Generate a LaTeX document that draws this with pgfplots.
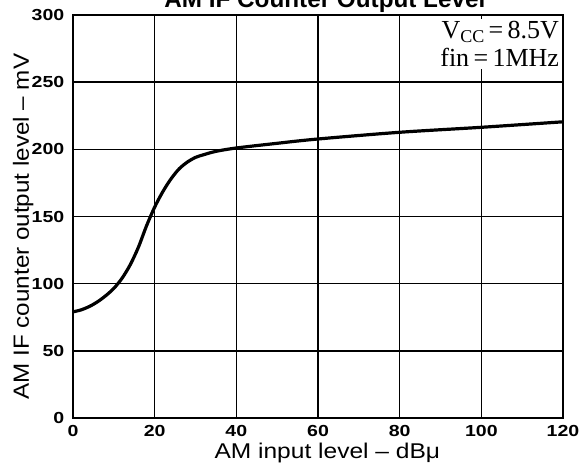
\documentclass[border=0pt]{standalone}
\usepackage{pgfplots}
\pgfplotsset{compat=1.18}
\usepackage{fontspec}
\setmainfont{Liberation Sans}
\newfontfamily\seriffont{Liberation Serif}
\begin{document}
\begin{tikzpicture}
\begin{axis}[
  at={(0,0)}, anchor=south west,
  scale only axis, width=367.5pt, height=302.25pt,
  xmin=0, xmax=120, ymin=0, ymax=300,
  xtick={0,20,...,120}, ytick={0,50,...,300},
  grid=major, major grid style={black, line width=1.1pt},
  axis line style={black, line width=1.5pt},
  major tick length=0pt,
  /pgf/number format/assume math mode=true,
  ticklabel style={font=\bfseries\fontsize{12}{12}\selectfont},
  xticklabel={\scalebox{1.22}[1]{\pgfmathprintnumber{\tick}}},
  yticklabel={\scalebox{1.22}[1]{\pgfmathprintnumber{\tick}}},
  xticklabel style={anchor=north, inner sep=0pt, yshift=-5.5pt},
  yticklabel style={anchor=east, xshift=-3pt},
  xlabel={\scalebox{1.15}[1]{AM input level -- dBμ}},
  ylabel={\scalebox{1.1}[1]{AM IF counter output level -- mV}},
  xlabel style={font=\fontsize{16}{16}\selectfont, inner sep=0pt, at={(axis description cs:0.519,-0.101)}, anchor=base},
  ylabel style={font=\fontsize{16.5}{16.5}\selectfont, at={(axis description cs:-0.0898,0.475)}, anchor=base, rotate=0},
  clip=false,
]
\addplot[black, line width=2.4pt, smooth] coordinates {
(0,79) (2,80.5) (4,83) (6,86.5) (8,91) (10,96.5) (12,104) (14,114) (16,127) (18,143) (20,157) (22,168.5) (24,178) (26,185.5) (28,190.5) (30,194) (32,196) (35,198.5) (40,201) (50,204.5) (60,207.7) (80,212.7) (100,216.4) (120,220.5)
};
\node[anchor=north east, fill=white, align=right, inner sep=2pt,
      font=\seriffont\fontsize{19.5}{21}\selectfont]
  at ([xshift=-0.8pt,yshift=-2.5pt]rel axis cs:1,1)
  {V\raisebox{-0.35ex}{\fontsize{13.5}{13.5}\selectfont CC}\,=\,8.5V\\ fin\,=\,1MHz};
\node[anchor=base, font=\bfseries\fontsize{18.2}{18.2}\selectfont]
  at ([yshift=5.3pt]rel axis cs:0.514,1) {AM IF Counter Output Level};
\end{axis}
\pgfresetboundingbox
\path[use as bounding box] (-54.75pt,-37.5pt) rectangle (380.25pt,313.5pt);
\end{tikzpicture}
\end{document}
